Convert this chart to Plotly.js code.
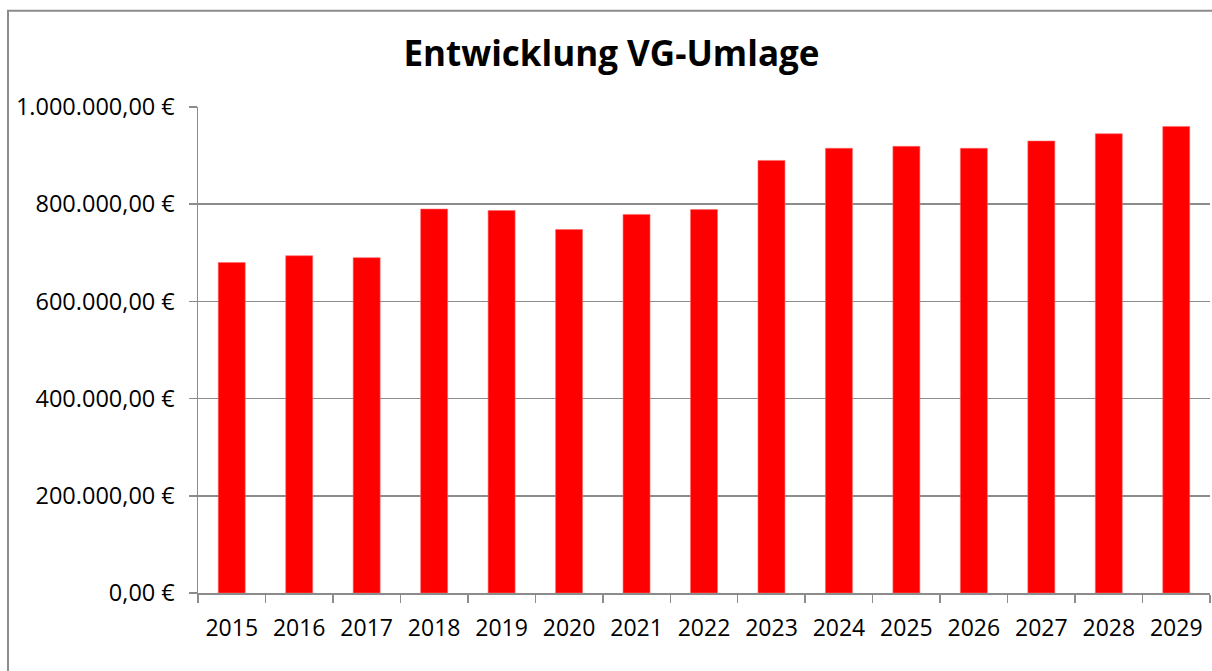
<!DOCTYPE html>
<html>
<head>
<meta charset="utf-8">
<script src="https://cdn.plot.ly/plotly-3.0.1.min.js"></script>
<style>
html,body{margin:0;padding:0;background:#fff;overflow:hidden;}
#chart{width:1212px;height:671px;}
</style>
</head>
<body>
<div id="chart"></div>
<script>
const years = ["2015","2016","2017","2018","2019","2020","2021","2022","2023","2024","2025","2026","2027","2028","2029"];
const umlage = [680000, 694000, 690000, 790000, 787000, 748000, 779000, 789000, 890000, 915000, 919000, 915000, 930000, 945000, 960000];
const yTickVals = [0, 200000, 400000, 600000, 800000, 1000000];
const yTickText = ["0,00 €", "200.000,00 €", "400.000,00 €", "600.000,00 €", "800.000,00 €", "1.000.000,00 €"];

const W = 1212, H = 671;
const L = 198, R = 2, T = 106.5, B = 77.5;
const pw = W - L - R, ph = H - T - B;

const trace = {
  type: 'bar',
  x: years,
  y: umlage,
  marker: {color: '#ff0000', line: {color: '#ff6a6a', width: 0.6}},
  hoverinfo: 'x+y'
};

const layout = {
  width: W, height: H,
  margin: {l: L, r: R, t: T, b: B, pad: 0},
  paper_bgcolor: '#ffffff',
  plot_bgcolor: '#ffffff',
  showlegend: false,
  bargap: 0.6,
  font: {family: 'Open Sans, sans-serif', color: '#000000', size: 23},
  title: {
    text: '<b>Entwicklung VG-Umlage</b>',
    font: {family: 'Open Sans, sans-serif', size: 35, color: '#000000'},
    x: 0.5045, xref: 'container', xanchor: 'center',
    y: 56, yref: 'container', yanchor: 'middle'
  },
  xaxis: {
    type: 'category',
    tickson: 'boundaries',
    ticks: 'outside', ticklen: 8, tickwidth: 1.5, tickcolor: '#8c8c8c',
    showline: true, linecolor: '#8c8c8c', linewidth: 1.5,
    showgrid: false, zeroline: false,
    tickfont: {size: 23, family: 'Open Sans, sans-serif', color: '#000'},
    ticklabelstandoff: 14,
    fixedrange: true
  },
  yaxis: {
    range: [0, 1000000],
    tickmode: 'array', tickvals: yTickVals, ticktext: yTickText,
    ticks: 'outside', ticklen: 8, tickwidth: 1.5, tickcolor: '#8c8c8c',
    showline: true, linecolor: '#8c8c8c', linewidth: 1.5,
    showgrid: true, gridcolor: '#8c8c8c', gridwidth: 1.6,
    zeroline: false,
    tickfont: {size: 23.5, family: 'Open Sans, sans-serif', color: '#000'},
    ticklabelstandoff: 9,
    fixedrange: true
  },
  shapes: [{
    type: 'rect', xref: 'paper', yref: 'paper', layer: 'below',
    x0: (8 - L) / pw, x1: (W + 40 - L) / pw,
    y0: (H - B - (H + 40)) / ph, y1: (H - B - 10) / ph,
    line: {color: '#8c8c8c', width: 2}, fillcolor: 'rgba(0,0,0,0)'
  }]
};

Plotly.newPlot('chart', [trace], layout, {displayModeBar: false, staticPlot: true});
</script>
</body>
</html>
